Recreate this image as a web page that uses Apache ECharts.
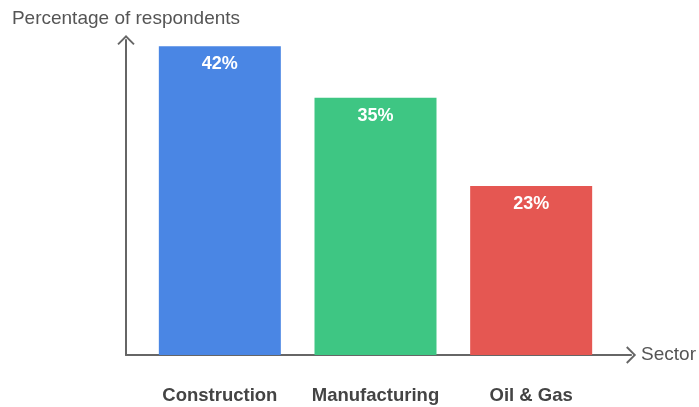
<!DOCTYPE html>
<html>
<head>
<meta charset="utf-8">
<script src="https://cdn.jsdelivr.net/npm/echarts@6/dist/echarts.min.js"></script>
<style>
  html, body { margin: 0; padding: 0; background: #fff; }
  #chart { width: 699px; height: 407px; }
</style>
</head>
<body>
<div id="chart"></div>
<script>
// 数据
const sectors = ['Construction', 'Manufacturing', 'Oil & Gas'];
const shares = [42, 35, 23];
const barColors = ['#4a86e4', '#3ec683', '#e55752'];

const axisGray = '#666';
const chevron = 'path://M0,9 L9,0 L18,9 L16.6,10.4 L9,2.8 L1.4,10.4 Z';
const yMax = 42.85;

const chart = echarts.init(document.getElementById('chart'));

chart.setOption({
    animation: false,
    textStyle: { fontFamily: 'Liberation Sans, Arial, sans-serif' },
    grid: [
        // 坐标轴（带箭头）
        { left: 126, right: 67, top: 40, bottom: 52 },
        // 柱子
        { left: 142, right: 90, top: 40, bottom: 52 }
    ],
    xAxis: [
        {
            gridIndex: 0,
            type: 'value',
            min: 0,
            max: 1,
            name: 'Sector',
            nameLocation: 'end',
            nameGap: 10,
            nameTextStyle: { color: '#555', fontSize: 19 },
            axisLine: {
                show: true,
                symbol: ['none', chevron],
                symbolSize: [18, 10],
                lineStyle: { color: axisGray, width: 2 }
            },
            axisTick: { show: false },
            axisLabel: { show: false },
            splitLine: { show: false }
        },
        {
            gridIndex: 1,
            type: 'category',
            data: sectors,
            axisLine: { show: false },
            axisTick: { show: false },
            axisLabel: {
                interval: 0,
                hideOverlap: false,
                margin: 31,
                color: '#444',
                fontSize: 18.5,
                fontWeight: 'bold'
            }
        }
    ],
    yAxis: [
        {
            gridIndex: 0,
            type: 'value',
            min: 0,
            max: yMax,
            name: 'Percentage of respondents',
            nameLocation: 'end',
            nameGap: 12,
            nameTextStyle: { color: '#555', fontSize: 19 },
            axisLine: {
                show: true,
                symbol: ['none', chevron],
                symbolSize: [18, 10],
                lineStyle: { color: axisGray, width: 2 }
            },
            axisTick: { show: false },
            axisLabel: { show: false },
            splitLine: { show: false }
        },
        {
            gridIndex: 1,
            type: 'value',
            min: 0,
            max: yMax,
            show: false
        }
    ],
    series: [
        {
            type: 'bar',
            xAxisIndex: 1,
            yAxisIndex: 1,
            barWidth: 122,
            data: shares.map((v, i) => ({ value: v, itemStyle: { color: barColors[i] } })),
            label: {
                show: true,
                position: 'insideTop',
                distance: 9,
                formatter: '{c}%',
                color: '#fff',
                fontSize: 18,
                fontWeight: 'bold'
            },
            z: 1
        }
    ]
});
</script>
</body>
</html>
